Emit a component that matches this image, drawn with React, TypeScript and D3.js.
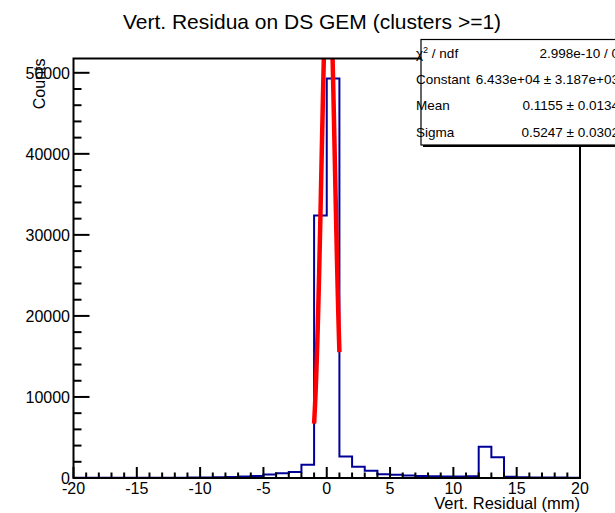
import React from "react";
import * as d3 from "d3";

// Histogram of vertical residuals, 1 mm bins from -20 to 20
const binLow = -20;
const binWidth = 1;
const counts = [
  20, 20, 25, 25, 30, 30, 35, 40, 45, 55,
  70, 90, 120, 170, 250, 420, 600, 750, 1650, 32400,
  49300, 2650, 1400, 900, 450, 400, 300, 250, 220, 200,
  200, 230, 3850, 2550, 160, 90, 70, 60, 50, 40,
];

// Gaussian fit result (Constant, Mean, Sigma) and its range
const fitParams = [64330, 0.1155, 0.5247];
const fitRange = [-1, 1];

const xMajorTicks = [-20, -15, -10, -5, 0, 5, 10, 15, 20];
const yMajorTicks = [0, 10000, 20000, 30000, 40000, 50000];

const statsLabels = ["χ2 / ndf", "Constant", "Mean", "Sigma"];
const statsValues = [
  "2.998e-10 / 0",
  "6.433e+04 ± 3.187e+03",
  "0.1155 ± 0.0134",
  "0.5247 ± 0.0302",
];

const W = 615;
const H = 513;
const frame = { left: 73.5, right: 580, top: 58.5, bottom: 478 };
const FONT = "'Liberation Sans', Arial, Helvetica, sans-serif";

export default function App() {
  const xMax = binLow + counts.length * binWidth;
  const x = d3.scaleLinear().domain([binLow, xMax]).range([frame.left, frame.right]);
  const yTop = 1.05 * (d3.max(counts) as number);
  const y = d3.scaleLinear().domain([0, yTop]).range([frame.bottom, frame.top]);

  // step outline of the histogram
  const stepPts: [number, number][] = [[binLow, 0]];
  counts.forEach((c, i) => {
    const lo = binLow + i * binWidth;
    stepPts.push([lo, c], [lo + binWidth, c]);
  });
  stepPts.push([xMax, 0]);
  const histPath = d3
    .line<[number, number]>()
    .x((d) => x(d[0]))
    .y((d) => y(d[1]))(stepPts) as string;

  const [amp, mean, sigma] = fitParams;
  const gaus = (v: number) => amp * Math.exp(-0.5 * ((v - mean) / sigma) ** 2);
  const fitXs = d3.range(0, 101).map((i) => fitRange[0] + ((fitRange[1] - fitRange[0]) * i) / 100);
  const fitPath = d3
    .line<number>()
    .x((v) => x(v))
    .y((v) => y(gaus(v)))(fitXs) as string;

  const xMinor = d3.range(binLow, xMax + 0.001, 1);
  const yMinor = d3.range(0, yTop, 2000);

  const boxTop = 39.5;
  const boxBottom = 145;
  const rowH = (boxBottom - boxTop) / statsLabels.length;

  return (
    <svg
      width={W}
      height={H}
      style={{ position: "absolute", left: 0, top: 0, background: "#fff" }}
      fontFamily={FONT}
    >
      <rect x={0} y={0} width={W} height={H} fill="#fff" />
      <defs>
        <clipPath id="frameClip">
          <rect x={frame.left} y={frame.top} width={frame.right - frame.left} height={frame.bottom - frame.top} />
        </clipPath>
      </defs>

      {/* title */}
      <text x={312} y={29} textAnchor="middle" fontSize={21} fill="#000">
        Vert. Residua on DS GEM (clusters &gt;=1)
      </text>

      {/* histogram and fit */}
      <g clipPath="url(#frameClip)">
        <path d={histPath} fill="none" stroke="#000099" strokeWidth={2} />
        <path d={fitPath} fill="none" stroke="#ff0000" strokeWidth={4.5} />
      </g>

      {/* x ticks */}
      {xMinor.map((t) => {
        const major = xMajorTicks.includes(t);
        return (
          <line
            key={"xm" + t}
            x1={x(t)}
            x2={x(t)}
            y1={frame.bottom}
            y2={frame.bottom - (major ? 11 : 5.5)}
            stroke="#000"
            strokeWidth={2}
          />
        );
      })}
      {/* y ticks */}
      {yMinor.map((t) => {
        const major = yMajorTicks.includes(t);
        return (
          <line
            key={"ym" + t}
            x1={frame.left}
            x2={frame.left + (major ? 16 : 8)}
            y1={y(t)}
            y2={y(t)}
            stroke="#000"
            strokeWidth={2}
          />
        );
      })}

      {/* frame */}
      <rect
        x={frame.left}
        y={frame.top}
        width={frame.right - frame.left}
        height={frame.bottom - frame.top}
        fill="none"
        stroke="#000"
        strokeWidth={2}
      />

      {/* tick labels */}
      {xMajorTicks.map((t) => (
        <text key={"xl" + t} x={x(t)} y={494} textAnchor="middle" fontSize={16} fill="#000">
          {String(t)}
        </text>
      ))}
      {yMajorTicks.map((t) => (
        <text
          key={"yl" + t}
          x={70}
          y={y(t)}
          dy="0.36em"
          textAnchor="end"
          fontSize={16}
          fill="#000"
        >
          {String(t)}
        </text>
      ))}

      {/* axis titles */}
      <text x={frame.right} y={509} textAnchor="end" fontSize={16.5} fill="#000">
        Vert. Residual (mm)
      </text>
      <text
        transform={`translate(45,${frame.top}) rotate(-90)`}
        textAnchor="end"
        fontSize={16}
        fill="#000"
      >
        Counts
      </text>

      {/* fit statistics box */}
      <rect x={423} y={boxTop + 2} width={220} height={boxBottom - boxTop} fill="#000" />
      <rect
        x={421}
        y={boxTop}
        width={220}
        height={boxBottom - boxTop}
        fill="#fff"
        stroke="#000"
        strokeWidth={1.2}
      />
      {statsLabels.map((lab, i) => {
        const cy = boxTop + rowH * (i + 0.5);
        return (
          <g key={"st" + i}>
            <text x={416} y={cy} dy="0.36em" fontSize={13.5} fill="#000">
              {lab.startsWith("χ2") ? (
                <>
                  χ
                  <tspan fontSize={9} dy="-0.5em">
                    2
                  </tspan>
                  <tspan dy="0.35em"> / ndf</tspan>
                </>
              ) : (
                lab
              )}
            </text>
            <text x={619} y={cy} dy="0.36em" textAnchor="end" fontSize={13.5} fill="#000">
              {statsValues[i]}
            </text>
          </g>
        );
      })}
    </svg>
  );
}
